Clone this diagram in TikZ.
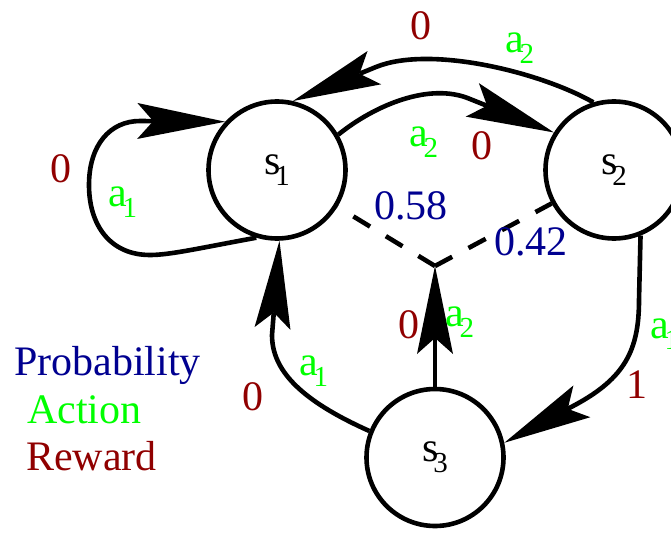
\documentclass[tikz,border=0pt]{standalone}
\usepackage{fontspec}
\setmainfont{Liberation Serif}
\usetikzlibrary{arrows.meta}
\definecolor{pblue}{RGB}{0,0,144}
\definecolor{agreen}{RGB}{0,255,0}
\definecolor{rred}{RGB}{144,0,0}
\newcommand\mysub[1]{\kern-0.12em\raisebox{-0.27em}{\fontsize{29}{29}\selectfont #1}}
\begin{document}
\begin{tikzpicture}[x=1pt,y=-1pt,
  state/.style={circle,draw,line width=4.6pt,minimum size=137pt,inner sep=0pt,font=\fontsize{42}{42}\selectfont},
  link/.style={line width=4.6pt,-{Stealth[length=88pt,width=36pt,inset=16pt,line width=0pt]}},
  prob/.style={line width=4.6pt,dash pattern=on 19.5pt off 18.5pt},
  lbl/.style={inner sep=0pt,font=\fontsize{42}{42}\selectfont},
  rew/.style={lbl,text=rred},
  act/.style={lbl,text=agreen},
  pr/.style={lbl,text=pblue}]
\useasboundingbox (0,0) rectangle (671,532);
% states
\node[state] (s1) at (277,170) {s\mysub{1}};
\node[state] (s2) at (614,170) {s\mysub{2}};
\node[state] (s3) at (435,457.5) {s\mysub{3}};
\coordinate (j) at (435,266);
% self loop on s1
\draw[link] (s1.-107) .. controls (200,248) and (170,255) .. (150,255)
  .. controls (110,255) and (89,225) .. (89,185)
  .. controls (89,145) and (110,121) .. (140,121) -- (s1.137);
% s1 -> s2
\draw[link] (s1.30) .. controls (375,105) and (430,82) .. (470,99) -- (s2.148);
% s2 -> s1
\draw[link] (s2.107) .. controls (540,72) and (430,45) .. (376,67) -- (s1.77);
% s3 -> s1
\draw[link] (s3.158) .. controls (300,400) and (272,370) .. (272,335) -- (s1.-88);
% s3 -> junction
\draw[link] (s3.north) -- (j);
% s2 -> s3
\draw[link] (s2.-68) -- (639,300) .. controls (639,350) and (625,378) .. (575,405) -- (s3.12);
% probability branches
\draw[prob] (j) -- (s1);
\draw[prob] (j) -- (s2);
% labels
\node[rew] (r1) at (61,169) {0};
\node[act] (a1) at (123,202) {a\mysub{1}};
\node[rew] (r2) at (421,26) {0};
\node[act] (a2) at (520,48) {a\mysub{2}};
\node[act] (a3) at (424,142) {a\mysub{2}};
\node[rew] (r3) at (482,146) {0};
\node[pr] (p1) at (411,206) {0.58};
\node[pr] (p2) at (531,242) {0.42};
\node[rew] (r4) at (409,325) {0};
\node[act] (a4) at (460,322) {a\mysub{2}};
\node[act] (a5) at (665,334) {a\mysub{1}};
\node[rew] (r5) at (637,385) {1};
\node[act] (a6) at (314,371) {a\mysub{1}};
\node[rew] (r6) at (253,397) {0};
% legend
\node[pr,anchor=base west] (lp) at (14,375) {Probability};
\node[act,anchor=base west] (la) at (27,423) {Action};
\node[rew,anchor=base west] (lr) at (26,470) {Reward};
\end{tikzpicture}
\end{document}
